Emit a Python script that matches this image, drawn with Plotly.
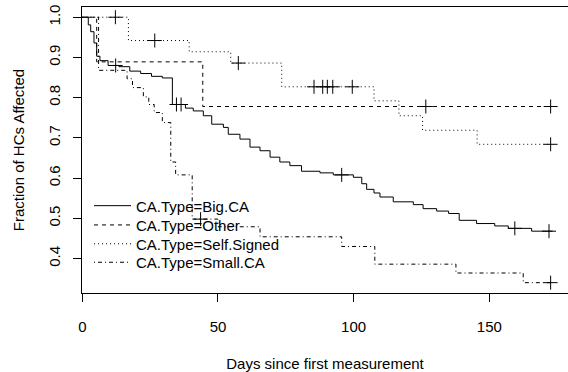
import plotly.graph_objects as go

# ---- data ----
big_t = [0, 2.2, 3.1, 4.3, 5.3, 6.5, 9.5, 13.5, 17.5, 21.5, 25.5, 29.5, 33.2, 38.0, 40.9, 44.6,
         47.7, 52.0, 53.8, 58.1, 61.8, 65.5, 69.2, 72.8, 76.5, 80.8, 87.6, 92.5, 99.9, 103.0,
         104.8, 107.5, 109.7, 114.6, 122.0, 125.6, 130.6, 135.0, 138.9, 145.3, 152.0, 157.0,
         165.6, 173.3]
big_s = [1.0, 0.981, 0.964, 0.936, 0.903, 0.892, 0.880, 0.877, 0.866, 0.860, 0.853, 0.849, 0.783,
         0.774, 0.767, 0.755, 0.734, 0.726, 0.709, 0.697, 0.677, 0.668, 0.652, 0.640, 0.631,
         0.617, 0.613, 0.608, 0.602, 0.586, 0.572, 0.563, 0.553, 0.541, 0.534, 0.524, 0.518,
         0.512, 0.495, 0.487, 0.481, 0.475, 0.468, 0.468]
big_cens_t = [12.3, 34.7, 36.4, 95.6, 159.4, 172.0]
big_cens_s = [0.880, 0.783, 0.783, 0.608, 0.475, 0.468]

oth_t = [0, 5.3, 44.4, 172.6]
oth_s = [1.0, 0.889, 0.778, 0.778]
oth_cens_t = [126.6, 172.6]
oth_cens_s = [0.778, 0.778]

self_t = [0, 17.0, 39.4, 54.7, 73.5, 107.5, 116.7, 125.4, 145.5, 172.6]
self_s = [1.0, 0.942, 0.914, 0.886, 0.827, 0.792, 0.755, 0.719, 0.684, 0.684]
self_cens_t = [12.2, 26.7, 57.5, 85.4, 88.6, 90.3, 92.3, 99.5, 172.6]
self_cens_s = [1.0, 0.942, 0.886, 0.827, 0.827, 0.827, 0.827, 0.827, 0.684]

small_t = [0, 6.0, 16.5, 18.5, 22.5, 24.5, 26.5, 29.5, 32.6, 34.4, 40.5, 50.0, 65.5, 95.6,
           107.8, 137.7, 162.5, 172.6]
small_s = [1.0, 0.868, 0.847, 0.825, 0.802, 0.783, 0.763, 0.738, 0.640, 0.608, 0.498, 0.479,
           0.454, 0.430, 0.386, 0.364, 0.340, 0.340]
small_cens_t = [43.6, 172.6]
small_cens_s = [0.498, 0.340]

series_names = ["CA.Type=Big.CA", "CA.Type=Other", "CA.Type=Self.Signed", "CA.Type=Small.CA"]
x_ticks = [0, 50, 100, 150]
y_ticks = [0.4, 0.5, 0.6, 0.7, 0.8, 0.9, 1.0]
y_tick_labels = ["0.4", "0.5", "0.6", "0.7", "0.8", "0.9", "1.0"]

FONT = "Liberation Sans, Arial, Helvetica, sans-serif"
FS = 15

curves = [
    (big_t, big_s, big_cens_t, big_cens_s, "solid"),
    (oth_t, oth_s, oth_cens_t, oth_cens_s, "4px,4px"),
    (self_t, self_s, self_cens_t, self_cens_s, "1px,3px"),
    (small_t, small_s, small_cens_t, small_cens_s, "1px,3px,4px,3px"),
]
legend_ids = ["legend", "legend2", "legend3", "legend4"]

fig = go.Figure()
for name, lid, (t, s, ct, cs, dash) in zip(series_names, legend_ids, curves):
    fig.add_trace(go.Scatter(
        x=t, y=s, mode="lines", name=name, legend=lid,
        line=dict(color="black", width=1, dash=dash, shape="hv"),
        showlegend=True,
    ))
for name, (t, s, ct, cs, dash) in zip(series_names, curves):
    fig.add_trace(go.Scatter(
        x=ct, y=cs, mode="markers", showlegend=False, hoverinfo="skip",
        marker=dict(symbol="cross-thin", size=10, line=dict(color="black", width=1)),
    ))

# plot area: x 82..568 px, y 7..295 px
row_px = [207.3, 226.7, 245.7, 264.3]
legend_cfg = {}
for lid, py in zip(legend_ids, row_px):
    legend_cfg[lid] = dict(
        x=(89 - 82) / 486, y=(295 - py) / 288, xanchor="left", yanchor="middle",
        bgcolor="rgba(0,0,0,0)", borderwidth=0,
        font=dict(family=FONT, size=FS, color="black"),
        itemwidth=37,
    )

fig.update_layout(
    width=568, height=372,
    margin=dict(l=82, r=0, t=7, b=77),
    paper_bgcolor="white", plot_bgcolor="white",
    font=dict(family=FONT, size=FS, color="black"),
    showlegend=True,
    xaxis=dict(
        range=[-0.11, 179.0], showgrid=False, zeroline=False,
        showline=True, linecolor="black", linewidth=1, mirror=True,
        ticks="outside", ticklen=8, tickcolor="black", tickwidth=1,
        tickvals=x_ticks, ticktext=[str(v) for v in x_ticks],
        ticklabelstandoff=12,
        title=dict(text="Days since first measurement", standoff=26,
                   font=dict(family=FONT, size=FS)),
    ),
    yaxis=dict(
        range=[0.3143, 1.0254], showgrid=False, zeroline=False,
        showline=True, linecolor="black", linewidth=1,
        ticks="outside", ticklen=8, tickcolor="black", tickwidth=1,
        tickvals=y_ticks, ticktext=y_tick_labels, tickangle=-90,
        ticklabelstandoff=7,
        title=dict(text="Fraction of HCs Affected", standoff=17,
                   font=dict(family=FONT, size=FS)),
    ),
    **legend_cfg,
)

fig.write_html("out.html")
